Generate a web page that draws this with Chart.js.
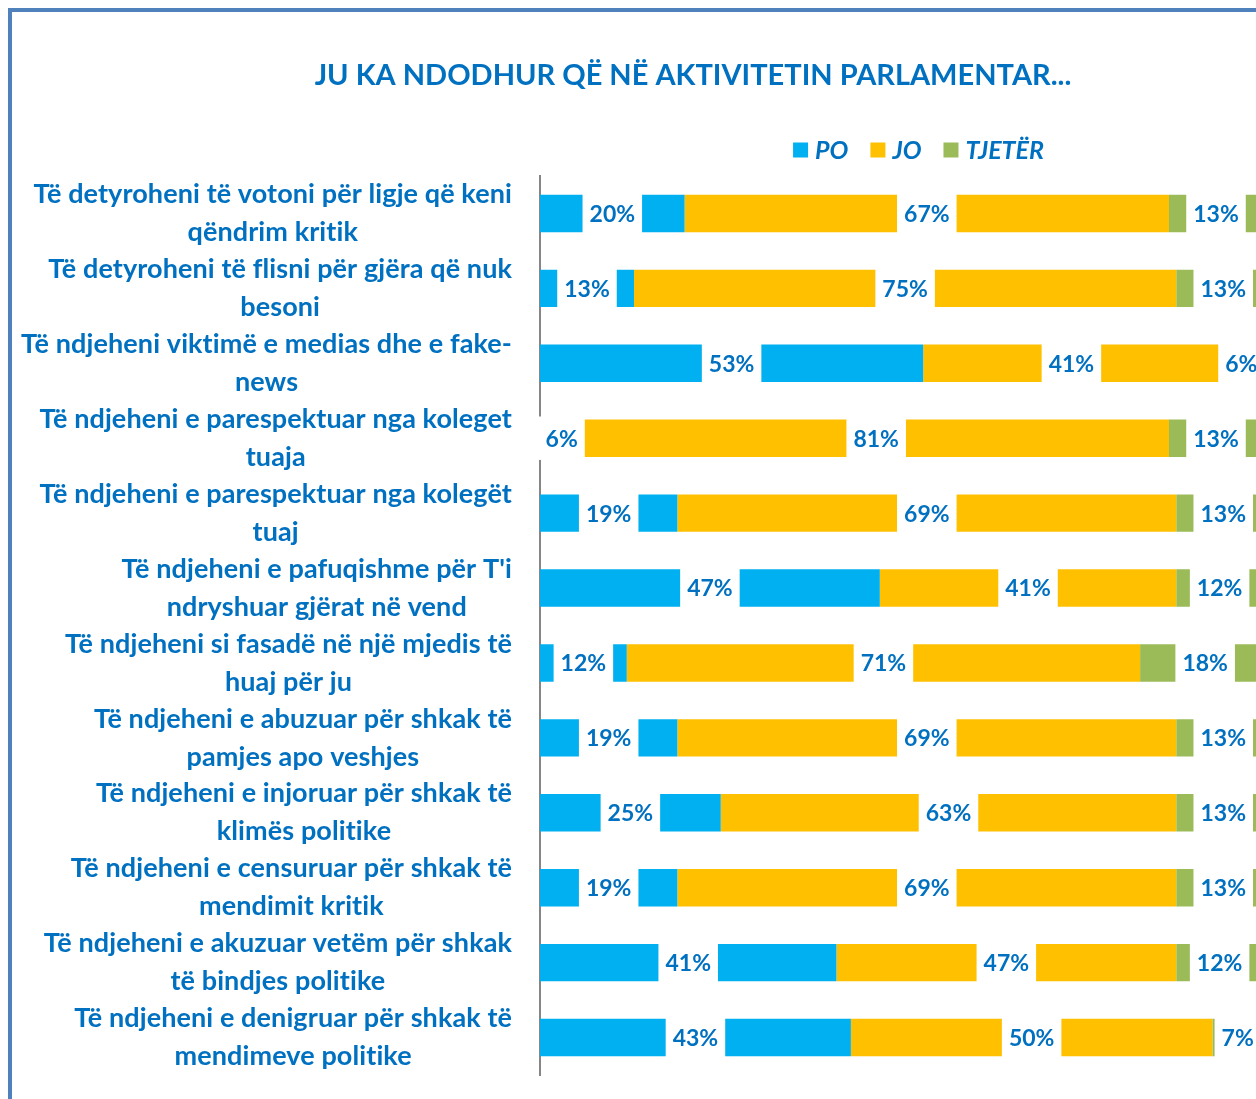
<!DOCTYPE html>
<html>
<head>
<meta charset="utf-8">
<script src="https://cdn.jsdelivr.net/npm/chart.js@4.4.0/dist/chart.umd.min.js"></script>
<style>
html, body { margin: 0; padding: 0; overflow: hidden; background: #fff; }
#frame { position: absolute; left: 8px; top: 8px; width: 1362px; height: 1110px; border: 4px solid #4F81BD; }
canvas { display: block; }
</style>
</head>
<body>
<div id="frame"><canvas id="graphicC" width="1362" height="1110"></canvas></div>
<script>
const categories = [
    ['Të detyroheni të votoni për ligje që keni', 'qëndrim kritik'],
    ['Të detyroheni të flisni për gjëra që nuk', 'besoni'],
    ['Të ndjeheni viktimë e medias dhe e fake-', 'news'],
    ['Të ndjeheni e parespektuar nga koleget', 'tuaja'],
    ['Të ndjeheni e parespektuar nga kolegët', 'tuaj'],
    ["Të ndjeheni e pafuqishme për T'i", 'ndryshuar gjërat në vend'],
    ['Të ndjeheni si fasadë në një mjedis të', 'huaj për ju'],
    ['Të ndjeheni e abuzuar për shkak të', 'pamjes apo veshjes'],
    ['Të ndjeheni e injoruar për shkak të', 'klimës politike'],
    ['Të ndjeheni e censuruar për shkak të', 'mendimit kritik'],
    ['Të ndjeheni e akuzuar vetëm për shkak', 'të bindjes politike'],
    ['Të ndjeheni e denigruar për shkak të', 'mendimeve politike']
];
const seriesNames = ['PO', 'JO', 'TJETËR'];
const po = [20, 13, 53, 6, 19, 47, 12, 19, 25, 19, 41, 43];
const jo = [67, 75, 41, 81, 69, 41, 71, 69, 63, 69, 47, 50];
const tjeter = [13, 13, 6, 13, 13, 12, 18, 13, 13, 13, 12, 7];

const textBlue = '#0070C0';
const fontFam = 'Lato';

// labels centred on each segment, on a white box like the original
const boxLabels = {
    id: 'boxLabels',
    afterDatasetsDraw(chart) {
        const ctx = chart.ctx;
        ctx.save();
        ctx.font = 'bold 23px ' + fontFam;
        ctx.textAlign = 'center';
        ctx.textBaseline = 'middle';
        chart.data.datasets.forEach((ds, di) => {
            chart.getDatasetMeta(di).data.forEach((bar, i) => {
                const text = ds.data[i] + '%';
                const cx = (bar.x + bar.base) / 2;
                const w = ctx.measureText(text).width + 14;
                const h = bar.height + 6;
                ctx.fillStyle = '#fff';
                ctx.fillRect(cx - w / 2, bar.y - h / 2, w, h);
                ctx.fillStyle = textBlue;
                ctx.fillText(text, cx, bar.y + 1);
            });
        });
        ctx.restore();
    }
};

// two-line category labels, each block centred on itself and pushed to the axis
const catLabels = {
    id: 'catLabels',
    afterDraw(chart) {
        const ctx = chart.ctx;
        const yScale = chart.scales.y;
        ctx.save();
        ctx.font = 'bold 27px ' + fontFam;
        ctx.letterSpacing = '0.1px'; // no "ti" ligature
        ctx.fillStyle = textBlue;
        ctx.textAlign = 'center';
        ctx.textBaseline = 'middle';
        chart.data.labels.forEach((lines, i) => {
            const cy = yScale.getPixelForValue(i);
            const bw = Math.max(...lines.map(l => ctx.measureText(l).width));
            const cx = yScale.right - 28 - bw / 2;
            lines.forEach((l, k) => ctx.fillText(l, cx, cy + (k - (lines.length - 1) / 2) * 38));
        });
        ctx.restore();
    }
};

const legendRow = {
    id: 'legendRow',
    afterDraw(chart) {
        const ctx = chart.ctx;
        const area = chart.chartArea;
        ctx.save();
        ctx.font = 'italic bold 25px ' + fontFam;
        ctx.textBaseline = 'middle';
        const sq = 15, gap = 7, space = 22;
        const items = chart.data.datasets.map(ds => ({
            text: ds.label, color: ds.backgroundColor, w: ctx.measureText(ds.label).width
        }));
        const total = items.reduce((s, it) => s + sq + gap + it.w, 0) + space * (items.length - 1);
        let x = (area.left + area.right) / 2 + 17 - total / 2;
        const cy = area.top - 26;
        items.forEach(it => {
            ctx.fillStyle = it.color;
            ctx.fillRect(x, cy - sq / 2, sq, sq);
            x += sq + gap;
            ctx.fillStyle = textBlue;
            ctx.fillText(it.text, x, cy + 1);
            x += it.w + space;
        });
        ctx.restore();
    }
};

const canvasG = document.getElementById('graphicC');

new Chart(canvasG, {
    type: 'bar',
    data: {
        labels: categories,
        datasets: [
            { label: seriesNames[0], data: po, backgroundColor: '#00B0F0' },
            { label: seriesNames[1], data: jo, backgroundColor: '#FFC000' },
            { label: seriesNames[2], data: tjeter, backgroundColor: '#9BBB59' }
        ]
    },
    options: {
        indexAxis: 'y',
        responsive: false,
        animation: false,
        layout: { padding: { left: 0, right: 0, top: 0, bottom: 47 } },
        datasets: { bar: { barPercentage: 0.5, categoryPercentage: 1.0 } },
        scales: {
            x: { stacked: true, min: 0, max: 100, display: false },
            y: {
                stacked: true,
                grid: { display: false, drawTicks: false },
                border: { color: '#868686', width: 2 },
                ticks: { display: false },
                afterFit(scale) { scale.width = 528; }
            },
            // empty right-hand axis: keeps space after 100% so the title stays centred on the frame
            yRight: {
                type: 'category',
                position: 'right',
                grid: { display: false, drawTicks: false },
                border: { display: false },
                ticks: { display: false },
                afterFit(scale) { scale.width = 111; }
            }
        },
        plugins: {
            legend: { display: false },
            tooltip: { enabled: false },
            title: {
                display: true,
                text: 'JU KA NDODHUR QË NË AKTIVITETIN PARLAMENTAR...',
                color: textBlue,
                font: { family: fontFam, size: 29, weight: 'bold' },
                padding: { top: 46.6, bottom: 82.6 }
            }
        }
    },
    plugins: [boxLabels, catLabels, legendRow]
});
</script>
</body>
</html>
